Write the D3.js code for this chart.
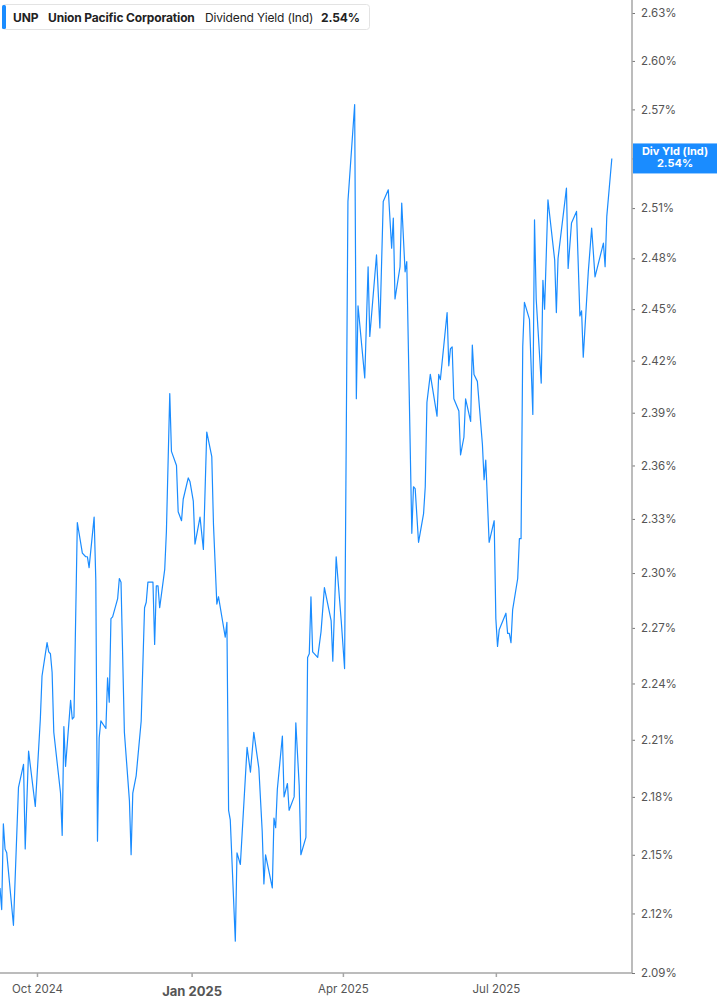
<!DOCTYPE html>
<html>
<head>
<meta charset="utf-8">
<script src="https://cdn.jsdelivr.net/npm/d3@7"></script>
<style>
    body { margin: 0; background: #ffffff; }
    #chart { width: 717px; height: 1005px; }
    svg { display: block; font-family: Inter, "Noto Sans", sans-serif; }
</style>
</head>
<body>
<div id="chart"></div>
<script>
// Daily dividend yield readings (%)
const dates = [
    "2024-09-09","2024-09-10","2024-09-11","2024-09-12","2024-09-13","2024-09-17","2024-09-20","2024-09-23","2024-09-24","2024-09-26",
    "2024-09-30","2024-10-03","2024-10-04","2024-10-07","2024-10-08","2024-10-09","2024-10-10","2024-10-11","2024-10-15","2024-10-16",
    "2024-10-17","2024-10-18","2024-10-21","2024-10-22","2024-10-23","2024-10-25","2024-10-28","2024-10-30","2024-10-31","2024-11-01",
    "2024-11-04","2024-11-05","2024-11-06","2024-11-07","2024-11-08","2024-11-11","2024-11-12","2024-11-13","2024-11-14","2024-11-15",
    "2024-11-18","2024-11-19","2024-11-20","2024-11-22","2024-11-25","2024-11-26","2024-11-27","2024-11-29","2024-12-02","2024-12-04",
    "2024-12-05","2024-12-06","2024-12-09","2024-12-10","2024-12-11","2024-12-12","2024-12-13","2024-12-16","2024-12-17","2024-12-19",
    "2024-12-20","2024-12-23","2024-12-24","2024-12-26","2024-12-27","2024-12-30","2024-12-31","2025-01-02","2025-01-03","2025-01-06",
    "2025-01-08","2025-01-10","2025-01-13","2025-01-14","2025-01-16","2025-01-17","2025-01-21","2025-01-22","2025-01-23","2025-01-24",
    "2025-01-27","2025-01-28","2025-01-30","2025-02-03","2025-02-05","2025-02-07","2025-02-10","2025-02-12","2025-02-13","2025-02-14",
    "2025-02-18","2025-02-19","2025-02-20","2025-02-21","2025-02-24","2025-02-25","2025-02-27","2025-02-28","2025-03-03","2025-03-04",
    "2025-03-06","2025-03-07","2025-03-10","2025-03-11","2025-03-12","2025-03-13","2025-03-14","2025-03-17","2025-03-19","2025-03-21",
    "2025-03-25","2025-03-26","2025-03-28","2025-03-31","2025-04-02","2025-04-04","2025-04-08","2025-04-09","2025-04-10","2025-04-14",
    "2025-04-16","2025-04-17","2025-04-21","2025-04-23","2025-04-25","2025-04-28","2025-04-30","2025-05-01","2025-05-02","2025-05-05",
    "2025-05-06","2025-05-08","2025-05-09","2025-05-12","2025-05-13","2025-05-14","2025-05-16","2025-05-19","2025-05-20","2025-05-21",
    "2025-05-23","2025-05-27","2025-05-28","2025-05-29","2025-06-02","2025-06-03","2025-06-04","2025-06-05","2025-06-06","2025-06-09",
    "2025-06-10","2025-06-12","2025-06-13","2025-06-16","2025-06-17","2025-06-18","2025-06-20","2025-06-23","2025-06-24","2025-06-25",
    "2025-06-27","2025-06-30","2025-07-01","2025-07-02","2025-07-03","2025-07-07","2025-07-08","2025-07-09","2025-07-10","2025-07-11",
    "2025-07-14","2025-07-15","2025-07-16","2025-07-17","2025-07-18","2025-07-21","2025-07-23","2025-07-24","2025-07-25","2025-07-28",
    "2025-07-29","2025-07-30","2025-08-01","2025-08-05","2025-08-06","2025-08-07","2025-08-12","2025-08-13","2025-08-15","2025-08-18",
    "2025-08-20","2025-08-21","2025-08-22","2025-08-25","2025-08-27","2025-08-29","2025-09-03","2025-09-04","2025-09-05","2025-09-08"
];
const yields = [
    2.133, 2.122, 2.166, 2.153, 2.151, 2.114, 2.185, 2.197, 2.153, 2.204,
    2.175, 2.221, 2.244, 2.262, 2.257, 2.256, 2.246, 2.214, 2.182, 2.160,
    2.217, 2.196, 2.231, 2.221, 2.222, 2.328, 2.311, 2.309, 2.309, 2.303,
    2.331, 2.296, 2.157, 2.211, 2.220, 2.216, 2.243, 2.230, 2.275, 2.276,
    2.286, 2.297, 2.295, 2.214, 2.178, 2.150, 2.182, 2.191, 2.220, 2.281,
    2.284, 2.295, 2.295, 2.261, 2.293, 2.293, 2.281, 2.302, 2.323, 2.401,
    2.368, 2.360, 2.334, 2.329, 2.341, 2.353, 2.351, 2.340, 2.316, 2.331,
    2.313, 2.379, 2.365, 2.327, 2.283, 2.287, 2.265, 2.273, 2.173, 2.168,
    2.106, 2.151, 2.145, 2.206, 2.193, 2.214, 2.195, 2.162, 2.135, 2.150,
    2.133, 2.169, 2.164, 2.184, 2.212, 2.180, 2.187, 2.173, 2.180, 2.219,
    2.186, 2.150, 2.159, 2.254, 2.256, 2.287, 2.257, 2.254, 2.268, 2.292,
    2.274, 2.252, 2.309, 2.274, 2.248, 2.514, 2.573, 2.398, 2.452, 2.410,
    2.475, 2.434, 2.482, 2.439, 2.514, 2.521, 2.486, 2.504, 2.456, 2.475,
    2.513, 2.472, 2.478, 2.322, 2.348, 2.347, 2.317, 2.333, 2.348, 2.396,
    2.412, 2.388, 2.412, 2.409, 2.448, 2.417, 2.427, 2.428, 2.398, 2.391,
    2.366, 2.376, 2.398, 2.385, 2.429, 2.412, 2.408, 2.372, 2.352, 2.363,
    2.317, 2.329, 2.275, 2.260, 2.269, 2.278, 2.267, 2.267, 2.262, 2.280,
    2.297, 2.319, 2.319, 2.428, 2.454, 2.444, 2.389, 2.503, 2.456, 2.407,
    2.467, 2.450, 2.515, 2.479, 2.448, 2.480, 2.522, 2.474, 2.501, 2.508,
    2.446, 2.449, 2.422, 2.472, 2.498, 2.469, 2.489, 2.475, 2.505, 2.540
];

// Axis ticks
const yTicks = [2.09, 2.12, 2.15, 2.18, 2.21, 2.24, 2.27, 2.30, 2.33, 2.36,
                2.39, 2.42, 2.45, 2.48, 2.51, 2.54, 2.57, 2.60, 2.63];
const xTickDates = ["2024-10-01", "2025-01-01", "2025-04-01", "2025-07-01"];
const xTickLabels = ["Oct 2024", "Jan 2025", "Apr 2025", "Jul 2025"];
const xDomain = ["2024-09-09", "2025-09-20"];

const ticker = "UNP";
const company = "Union Pacific Corporation";
const seriesName = "Dividend Yield (Ind)";
const badgeName = "Div Yld (Ind)";
const lastValue = 2.54;

const BLUE = "#1a8cff";
const parse = d3.timeParse("%Y-%m-%d");

const width = 717, height = 1005;
const plotRight = 632, plotBottom = 973;

const svg = d3.select("#chart").append("svg")
              .attr("width", width)
              .attr("height", height);

// Scales
const x = d3.scaleTime()
            .domain(xDomain.map(parse))
            .range([0, plotRight]);

const y = d3.scaleLog()
            .domain([2.09, 2.63])
            .range([plotBottom, 13]);

const data = dates.map((d, i) => ({ date: parse(d), value: yields[i] }));

/////////
// Y axis (right)
/////////
const yAxis = svg.append("g")
                 .attr("transform", `translate(${plotRight}, 0)`)
                 .call(d3.axisRight(y)
                         .tickValues(yTicks)
                         .tickSize(3)
                         .tickSizeOuter(0)
                         .tickPadding(6)
                         .tickFormat(d => d.toFixed(2) + "%"));
yAxis.select(".domain").remove();
yAxis.selectAll(".tick line").attr("stroke", "#777");
yAxis.selectAll(".tick text")
     .attr("fill", "#555")
     .style("font-size", "11.5px")
     .style("font-family", "Inter, sans-serif");
// the tick under the last-value badge is hidden by it
yAxis.selectAll(".tick text")
     .filter(d => Math.abs(d - lastValue) < 0.015)
     .remove();

svg.append("line")
   .attr("x1", plotRight).attr("x2", plotRight)
   .attr("y1", 0).attr("y2", plotBottom)
   .attr("stroke", "#a6a6a6")
   .attr("stroke-width", 1.5);

/////////
// X axis (bottom)
/////////
const xAxis = svg.append("g")
                 .attr("transform", `translate(0, ${plotBottom})`)
                 .call(d3.axisBottom(x)
                         .tickValues(xTickDates.map(parse))
                         .tickSize(4)
                         .tickSizeOuter(0)
                         .tickPadding(8)
                         .tickFormat((d, i) => xTickLabels[i]));
xAxis.select(".domain").remove();
xAxis.selectAll(".tick line").attr("stroke", "#a6a6a6").attr("stroke-width", 1.5);
xAxis.selectAll(".tick text")
     .attr("fill", "#555")
     .style("font-size", "11.5px")
     .style("font-family", "Inter, sans-serif");
// the year-start label is bold and a little bigger
xAxis.selectAll(".tick text")
     .filter((d, i) => xTickLabels[i].startsWith("Jan"))
     .attr("y", 14)
     .style("font-weight", "bold")
     .style("font-size", "13px");

svg.append("line")
   .attr("x1", 0).attr("x2", plotRight)
   .attr("y1", plotBottom).attr("y2", plotBottom)
   .attr("stroke", "#a6a6a6")
   .attr("stroke-width", 1.5);

/////////
// Yield line
/////////
const line = d3.line()
               .x(d => x(d.date))
               .y(d => y(d.value));

svg.append("path")
   .datum(data)
   .attr("d", line)
   .attr("fill", "none")
   .attr("stroke", BLUE)
   .attr("stroke-width", 1.2)
   .attr("stroke-linejoin", "round");

/////////
// Last value badge on the axis
/////////
const badgeY = y(lastValue);
svg.append("rect")
   .attr("x", plotRight + 1)
   .attr("y", badgeY - 15)
   .attr("width", width - plotRight - 1)
   .attr("height", 30)
   .attr("fill", BLUE);
svg.append("text")
   .attr("x", 675).attr("y", badgeY - 3)
   .attr("text-anchor", "middle")
   .attr("fill", "#fff")
   .style("font-size", "11px")
   .style("font-weight", "bold")
   .text(badgeName);
svg.append("text")
   .attr("x", 675).attr("y", badgeY + 9)
   .attr("text-anchor", "middle")
   .attr("fill", "#fff")
   .style("font-size", "11px")
   .style("font-weight", "bold")
   .text(lastValue.toFixed(2) + "%");

/////////
// Legend box
/////////
const legend = svg.append("g");
legend.append("rect")
      .attr("x", 2.5).attr("y", 4.5)
      .attr("width", 367).attr("height", 25)
      .attr("rx", 3)
      .attr("fill", "#fff")
      .attr("stroke", "#e3e3e3");
legend.append("rect")
      .attr("x", 2).attr("y", 5)
      .attr("width", 4).attr("height", 24)
      .attr("rx", 1.5)
      .attr("fill", BLUE);

const legendItems = [
    { text: ticker, x: 13, bold: true },
    { text: company, x: 48, bold: true },
    { text: seriesName, x: 205, bold: false },
    { text: lastValue.toFixed(2) + "%", x: 321, bold: true }
];
legend.selectAll("text.item")
      .data(legendItems)
      .join("text")
      .attr("class", "item")
      .attr("x", d => d.x)
      .attr("y", 21.5)
      .attr("fill", "#222")
      .style("font-size", "12px")
      .style("letter-spacing", "-0.15px")
      .style("font-weight", d => d.bold ? "bold" : "normal")
      .text(d => d.text);
</script>
</body>
</html>
